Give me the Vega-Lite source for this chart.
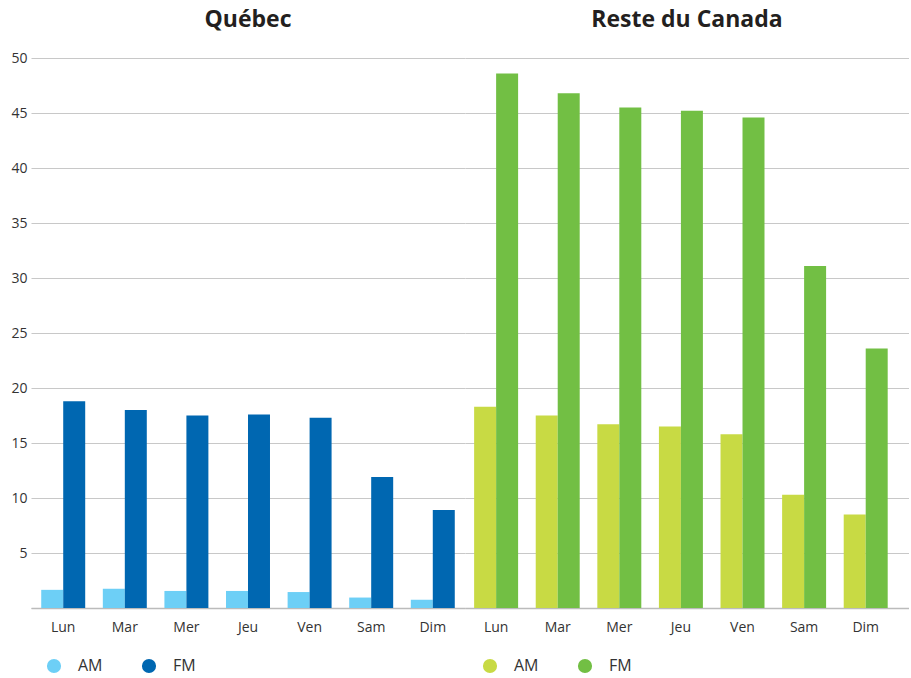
{
  "$schema": "https://vega.github.io/schema/vega-lite/v6.json",
  "background": "white",
  "padding": {"left": 10, "top": 9, "right": 0, "bottom": 0},
  "spacing": 0,
  "config": {
    "font": "Open Sans",
    "view": {"stroke": null},
    "axis": {"labelFont": "Open Sans", "labelColor": "#333333", "labelFontSize": 14},
    "title": {"font": "Open Sans", "fontSize": 23, "fontWeight": "bold", "color": "#231f20", "anchor": "middle"},
    "legend": {"labelFont": "Open Sans", "labelFontSize": 16, "labelColor": "#333333"}
  },
  "data": {
    "values": [
      {"region": "Québec", "day": "Lun", "type": "AM", "value": 1.65},
      {"region": "Québec", "day": "Lun", "type": "FM", "value": 18.8},
      {"region": "Québec", "day": "Mar", "type": "AM", "value": 1.75},
      {"region": "Québec", "day": "Mar", "type": "FM", "value": 18.0},
      {"region": "Québec", "day": "Mer", "type": "AM", "value": 1.55},
      {"region": "Québec", "day": "Mer", "type": "FM", "value": 17.5},
      {"region": "Québec", "day": "Jeu", "type": "AM", "value": 1.55},
      {"region": "Québec", "day": "Jeu", "type": "FM", "value": 17.6},
      {"region": "Québec", "day": "Ven", "type": "AM", "value": 1.45},
      {"region": "Québec", "day": "Ven", "type": "FM", "value": 17.3},
      {"region": "Québec", "day": "Sam", "type": "AM", "value": 0.95},
      {"region": "Québec", "day": "Sam", "type": "FM", "value": 11.9},
      {"region": "Québec", "day": "Dim", "type": "AM", "value": 0.75},
      {"region": "Québec", "day": "Dim", "type": "FM", "value": 8.9},
      {"region": "Reste du Canada", "day": "Lun", "type": "AM", "value": 18.3},
      {"region": "Reste du Canada", "day": "Lun", "type": "FM", "value": 48.6},
      {"region": "Reste du Canada", "day": "Mar", "type": "AM", "value": 17.5},
      {"region": "Reste du Canada", "day": "Mar", "type": "FM", "value": 46.8},
      {"region": "Reste du Canada", "day": "Mer", "type": "AM", "value": 16.7},
      {"region": "Reste du Canada", "day": "Mer", "type": "FM", "value": 45.5},
      {"region": "Reste du Canada", "day": "Jeu", "type": "AM", "value": 16.5},
      {"region": "Reste du Canada", "day": "Jeu", "type": "FM", "value": 45.2},
      {"region": "Reste du Canada", "day": "Ven", "type": "AM", "value": 15.8},
      {"region": "Reste du Canada", "day": "Ven", "type": "FM", "value": 44.6},
      {"region": "Reste du Canada", "day": "Sam", "type": "AM", "value": 10.3},
      {"region": "Reste du Canada", "day": "Sam", "type": "FM", "value": 31.1},
      {"region": "Reste du Canada", "day": "Dim", "type": "AM", "value": 8.5},
      {"region": "Reste du Canada", "day": "Dim", "type": "FM", "value": 23.6}
    ]
  },
  "resolve": {"scale": {"color": "independent", "x": "independent"}, "legend": {"color": "independent"}},
  "hconcat": [
    {
      "title": {"text": "Québec", "offset": 19},
      "width": 434,
      "height": 550,
      "transform": [{"filter": "datum.region === 'Québec'"}],
      "mark": {"type": "bar"},
      "encoding": {
        "x": {
          "field": "day", "type": "nominal", "sort": ["Lun","Mar","Mer","Jeu","Ven","Sam","Dim"],
          "scale": {"paddingInner": 0.286, "paddingOuter": 0.166, "align": 0.5},
          "axis": {"title": null, "labelAngle": 0, "ticks": false, "domainColor": "#bbbbbb", "domainWidth": 1.5, "labelPadding": 12, "grid": false}
        },
        "xOffset": {"field": "type", "type": "nominal", "sort": ["AM","FM"], "scale": {"paddingInner": 0, "paddingOuter": 0}},
        "y": {
          "field": "value", "type": "quantitative",
          "scale": {"domain": [0, 50], "nice": false},
          "axis": {"title": null, "values": [0,5,10,15,20,25,30,35,40,45,50], "labelOverlap": false, "labelExpr": "datum.value === 0 ? '' : datum.label", "ticks": false, "domain": false, "gridColor": "#c8c8c8", "gridWidth": 1.2, "labelPadding": 4}
        },
        "color": {
          "field": "type", "type": "nominal",
          "scale": {"domain": ["AM","FM"], "range": ["#6dcff6", "#0067b1"]},
          "legend": {"title": null, "orient": "none", "legendX": 15, "legendY": 600, "direction": "horizontal", "symbolType": "circle", "symbolSize": 200, "symbolStrokeWidth": 0, "labelOffset": 16, "columnPadding": 38, "padding": 0}
        }
      }
    },
    {
      "title": {"text": "Reste du Canada", "offset": 26},
      "width": 444,
      "height": 550,
      "transform": [{"filter": "datum.region === 'Reste du Canada'"}],
      "mark": {"type": "bar"},
      "encoding": {
        "x": {
          "field": "day", "type": "nominal", "sort": ["Lun","Mar","Mer","Jeu","Ven","Sam","Dim"],
          "scale": {"paddingInner": 0.286, "paddingOuter": 0.247, "align": 0.3},
          "axis": {"title": null, "labelAngle": 0, "ticks": false, "domainColor": "#bbbbbb", "domainWidth": 1.5, "labelPadding": 12, "grid": false}
        },
        "xOffset": {"field": "type", "type": "nominal", "sort": ["AM","FM"], "scale": {"paddingInner": 0, "paddingOuter": 0}},
        "y": {
          "field": "value", "type": "quantitative",
          "scale": {"domain": [0, 50], "nice": false},
          "axis": {"title": null, "values": [0,5,10,15,20,25,30,35,40,45,50], "labels": false, "ticks": false, "domain": false, "gridColor": "#c8c8c8", "gridWidth": 1.2}
        },
        "color": {
          "field": "type", "type": "nominal",
          "scale": {"domain": ["AM","FM"], "range": ["#c8da44", "#72bf44"]},
          "legend": {"title": null, "orient": "none", "legendX": 17, "legendY": 600, "direction": "horizontal", "symbolType": "circle", "symbolSize": 200, "symbolStrokeWidth": 0, "labelOffset": 16, "columnPadding": 38, "padding": 0}
        }
      }
    }
  ]
}
